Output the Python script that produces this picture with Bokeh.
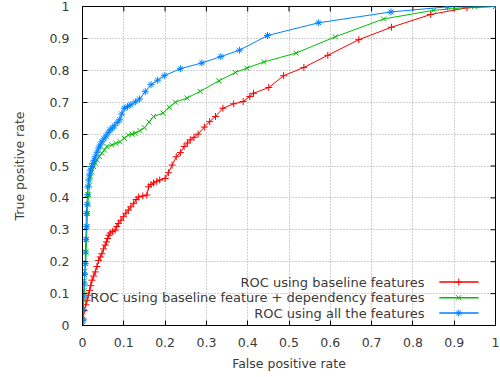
from bokeh.plotting import figure
from bokeh.models import FixedTicker, Range1d
from bokeh.core.properties import value
from bokeh.embed import file_html
from bokeh.resources import INLINE

# ---- data ----
red_fpr = [0, 0.002, 0.004, 0.008, 0.011, 0.014, 0.017, 0.020, 0.023, 0.027, 0.031, 0.035, 0.039,
           0.043, 0.047, 0.051, 0.055, 0.058, 0.061, 0.064, 0.067, 0.073, 0.079, 0.083, 0.087,
           0.093, 0.099, 0.105, 0.111, 0.117, 0.124, 0.130, 0.136, 0.146, 0.156, 0.160, 0.166,
           0.172, 0.180, 0.187, 0.200, 0.208, 0.217, 0.227, 0.237, 0.246, 0.254, 0.261, 0.270,
           0.280, 0.295, 0.308, 0.322, 0.340, 0.366, 0.389, 0.405, 0.414, 0.451, 0.487, 0.536,
           0.594, 0.669, 0.748, 0.843, 0.931, 1.0]
red_tpr = [0, 0.020, 0.047, 0.065, 0.079, 0.095, 0.110, 0.125, 0.142, 0.155, 0.168, 0.185, 0.204,
           0.215, 0.225, 0.240, 0.252, 0.262, 0.273, 0.283, 0.290, 0.295, 0.299, 0.310, 0.320,
           0.330, 0.341, 0.352, 0.362, 0.372, 0.383, 0.395, 0.403, 0.406, 0.409, 0.435, 0.442,
           0.447, 0.452, 0.456, 0.461, 0.479, 0.503, 0.529, 0.542, 0.561, 0.572, 0.582, 0.590,
           0.600, 0.622, 0.639, 0.655, 0.681, 0.695, 0.702, 0.718, 0.728, 0.746, 0.783, 0.809,
           0.847, 0.896, 0.935, 0.975, 0.996, 1.0]

green_fpr = [0, 0.001, 0.002, 0.003, 0.004, 0.005, 0.006, 0.008, 0.009, 0.010, 0.011, 0.012, 0.013,
             0.015, 0.017, 0.019, 0.023, 0.027, 0.031, 0.035, 0.041, 0.047, 0.053, 0.059, 0.071,
             0.081, 0.091, 0.101, 0.111, 0.120, 0.128, 0.139, 0.150, 0.161, 0.172, 0.195, 0.210,
             0.225, 0.253, 0.285, 0.330, 0.370, 0.398, 0.439, 0.517, 0.612, 0.729, 0.850, 0.949, 1.0]
green_tpr = [0, 0.020, 0.050, 0.080, 0.110, 0.140, 0.170, 0.194, 0.230, 0.270, 0.310, 0.351, 0.380,
             0.410, 0.440, 0.466, 0.482, 0.498, 0.509, 0.519, 0.530, 0.540, 0.550, 0.561, 0.566,
             0.571, 0.576, 0.587, 0.597, 0.600, 0.603, 0.611, 0.620, 0.638, 0.655, 0.666, 0.684,
             0.700, 0.713, 0.734, 0.767, 0.793, 0.807, 0.826, 0.854, 0.905, 0.961, 0.988, 0.999, 1.0]

blue_fpr = [0, 0.001, 0.002, 0.003, 0.004, 0.005, 0.0065, 0.007, 0.008, 0.009, 0.009, 0.011, 0.012,
            0.013, 0.015, 0.017, 0.019, 0.022, 0.025, 0.028, 0.031, 0.035, 0.039, 0.043, 0.047,
            0.052, 0.057, 0.062, 0.067, 0.072, 0.077, 0.084, 0.090, 0.095, 0.101, 0.109, 0.117,
            0.128, 0.138, 0.152, 0.166, 0.182, 0.198, 0.237, 0.289, 0.335, 0.380, 0.448, 0.572,
            0.747, 0.884, 1.0]
blue_tpr = [0, 0.016, 0.050, 0.090, 0.130, 0.160, 0.194, 0.230, 0.270, 0.310, 0.351, 0.380, 0.410,
            0.435, 0.456, 0.472, 0.487, 0.498, 0.508, 0.518, 0.529, 0.543, 0.556, 0.566, 0.576,
            0.585, 0.594, 0.604, 0.613, 0.619, 0.626, 0.636, 0.645, 0.663, 0.681, 0.686, 0.692,
            0.701, 0.710, 0.733, 0.755, 0.769, 0.783, 0.805, 0.823, 0.843, 0.863, 0.909, 0.949,
            0.983, 0.999, 1.0]

series_names = ["ROC using baseline features",
                "ROC using baseline feature + dependency features",
                "ROC using all the features"]
tick_values = [0, 0.1, 0.2, 0.3, 0.4, 0.5, 0.6, 0.7, 0.8, 0.9, 1.0]
tick_labels = ["0", "0.1", "0.2", "0.3", "0.4", "0.5", "0.6", "0.7", "0.8", "0.9", "1"]

# ---- style ----
FONT = "DejaVu Sans"
TXT = "#3a3a3a"
AX_FS = "12.5px"
KEY_FS = "13px"
colors = ["#ff0000", "#00c000", "#0080ff"]
markers = ["cross", "x", "asterisk"]

p = figure(width=500, height=377, output_backend="svg", toolbar_location=None,
           x_range=Range1d(0, 1), y_range=Range1d(0, 1),
           min_border_left=82, min_border_right=5, min_border_top=6, min_border_bottom=52)
p.background_fill_color = "white"
p.border_fill_color = "white"
p.outline_line_color = "black"
p.outline_line_width = 1

overrides = {v: l for v, l in zip(tick_values, tick_labels)}
for ax in (p.xaxis[0], p.yaxis[0]):
    ax.ticker = FixedTicker(ticks=tick_values)
    ax.major_label_overrides = overrides
    ax.major_tick_in = 5
    ax.major_tick_out = 0
    ax.minor_tick_line_color = None
    ax.axis_line_color = "black"
    ax.major_tick_line_color = "black"
    ax.major_label_text_font = FONT
    ax.major_label_text_font_size = AX_FS
    ax.major_label_text_color = TXT
    ax.axis_label_text_font = FONT
    ax.axis_label_text_font_size = AX_FS
    ax.axis_label_text_font_style = "normal"
    ax.axis_label_text_color = TXT

p.xaxis.axis_label = "False positive rate"
p.yaxis.axis_label = "True positive rate"
p.xaxis.major_label_standoff = 12
p.xaxis.axis_label_standoff = 6
p.yaxis.major_label_standoff = 13
p.yaxis.axis_label_standoff = 20

# mirrored inward ticks on the top and right edges of the frame (5 px long)
frame_w_px, frame_h_px = 413, 319
tx = 5 / frame_w_px
ty = 5 / frame_h_px
p.segment(x0=tick_values, y0=[1.0] * len(tick_values), x1=tick_values,
          y1=[1.0 - ty] * len(tick_values), line_color="black", line_width=1)
p.segment(x0=[1.0] * len(tick_values), y0=tick_values, x1=[1.0 - tx] * len(tick_values),
          y1=tick_values, line_color="black", line_width=1)

for g in (p.xgrid[0], p.ygrid[0]):
    g.ticker = FixedTicker(ticks=tick_values)
    g.grid_line_color = "#a0a0a0"
    g.grid_line_dash = "1 2"
    g.grid_line_width = 1

all_series = [(red_fpr, red_tpr), (green_fpr, green_tpr), (blue_fpr, blue_tpr)]
for (xs, ys), c, m in zip(all_series, colors, markers):
    p.line(xs, ys, line_color=c, line_width=1)
    p.scatter(xs, ys, marker=m, size=7, line_color=c, line_width=1)

# ---- key (text right-aligned, sample to its right) ----
key_text_x = 0.828
key_x0, key_xm, key_x1 = 0.864, 0.911, 0.959
key_y = [0.136, 0.087, 0.039]
p.text(x=[key_text_x] * 3, y=key_y, text=series_names, text_align="right",
       text_baseline="middle", text_font=value(FONT), text_font_size=KEY_FS, text_color=TXT)
for yk, c, m in zip(key_y, colors, markers):
    p.line([key_x0, key_x1], [yk, yk], line_color=c, line_width=1.5)
    p.scatter([key_xm], [yk], marker=m, size=7, line_color=c, line_width=1)

open("out.html", "w").write(file_html(p, INLINE))
